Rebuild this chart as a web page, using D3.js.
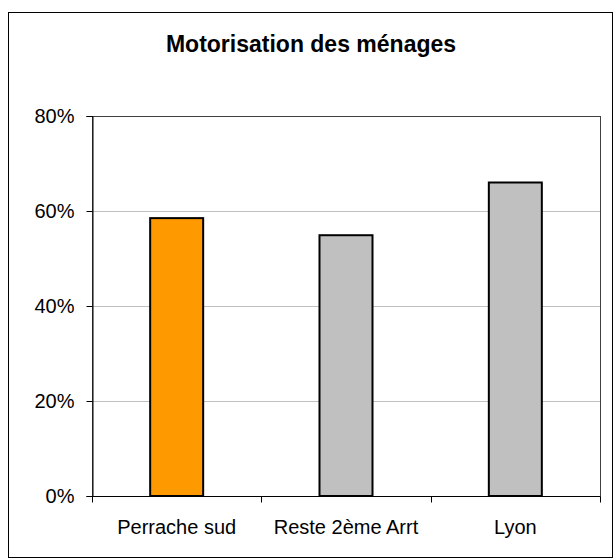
<!DOCTYPE html>
<html lang="fr">
<head>
<meta charset="UTF-8" />
<script src="https://d3js.org/d3.v7.min.js"></script>
<title>Motorisation des ménages</title>
<style>
  body { margin: 0; background: #fff; }
  svg text { font-family: "Liberation Sans", Arial, sans-serif; fill: #000; }
</style>
</head>
<body>
<svg id="chart" width="615" height="560"></svg>
<script>
// data
const categories = ['Perrache sud', 'Reste 2ème Arrt', 'Lyon'];
const values = [58.5, 54.9, 66.0];
const barColors = ['#ff9900', '#c0c0c0', '#c0c0c0'];
const yTicks = [0, 20, 40, 60, 80];
const title = 'Motorisation des ménages';

const svg = d3.select('#chart');

// outer frame
svg.append('rect')
  .attr('x', 8.5).attr('y', 12.5)
  .attr('width', 604).attr('height', 545)
  .attr('fill', 'none')
  .attr('stroke', '#000')
  .attr('stroke-width', 1);

svg.append('text')
  .attr('x', 311)
  .attr('y', 52)
  .attr('text-anchor', 'middle')
  .style('font-size', '23px')
  .style('font-weight', 'bold')
  .text(title);

const margin = { top: 116, left: 92 };
const innerWidth = 508;
const innerHeight = 380;

const g = svg.append('g')
  .attr('transform', `translate(${margin.left},${margin.top})`);

const x = d3.scaleBand()
  .domain(categories)
  .range([0, innerWidth])
  .paddingInner(0.687)
  .paddingOuter(0.687 / 2);

const y = d3.scaleLinear()
  .domain([0, 80])
  .range([innerHeight, 0]);

// gridlines
g.selectAll('.grid').data(yTicks.filter(d => d > 0 && d < 80))
  .enter().append('line')
  .attr('x1', 0).attr('x2', innerWidth)
  .attr('y1', d => Math.round(y(d)) + 0.5)
  .attr('y2', d => Math.round(y(d)) + 0.5)
  .attr('stroke', '#c0c0c0');

// plot area border
g.append('rect')
  .attr('x', 0.5).attr('y', 0.5)
  .attr('width', innerWidth).attr('height', innerHeight)
  .attr('fill', 'none')
  .attr('stroke', '#404040');

// bars
g.selectAll('.bar').data(values)
  .enter().append('rect')
  .attr('x', (d, i) => x(categories[i]))
  .attr('y', d => y(d))
  .attr('width', x.bandwidth())
  .attr('height', d => innerHeight - y(d))
  .attr('fill', (d, i) => barColors[i])
  .attr('stroke', '#000')
  .attr('stroke-width', 2);

// y axis
const yAxis = d3.axisLeft(y)
  .tickValues(yTicks)
  .tickSize(6)
  .tickPadding(12)
  .tickFormat(d => d + '%');

const yAxisG = g.append('g').attr('transform', 'translate(0.5,0)').call(yAxis);
yAxisG.select('.domain').attr('stroke', '#000');
yAxisG.selectAll('.tick line').attr('stroke', '#000');
yAxisG.selectAll('text').style('font-size', '20px').attr('font-family', null);

// x axis: ticks sit between categories
const xAxisG = g.append('g').attr('transform', `translate(0,${innerHeight + 0.5})`);
xAxisG.append('line')
  .attr('x1', 0).attr('x2', innerWidth)
  .attr('stroke', '#000');
const bounds = categories.map(c => x(c) - x.step() * x.paddingInner() / 2)
  .concat([innerWidth]);
xAxisG.selectAll('.xtick').data(bounds)
  .enter().append('line')
  .attr('x1', d => Math.round(d) + 0.5)
  .attr('x2', d => Math.round(d) + 0.5)
  .attr('y1', 0).attr('y2', 6)
  .attr('stroke', '#000');
xAxisG.selectAll('.xlabel').data(categories)
  .enter().append('text')
  .attr('x', d => x(d) + x.bandwidth() / 2)
  .attr('y', 37)
  .attr('text-anchor', 'middle')
  .style('font-size', '20px')
  .text(d => d);
</script>
</body>
</html>
